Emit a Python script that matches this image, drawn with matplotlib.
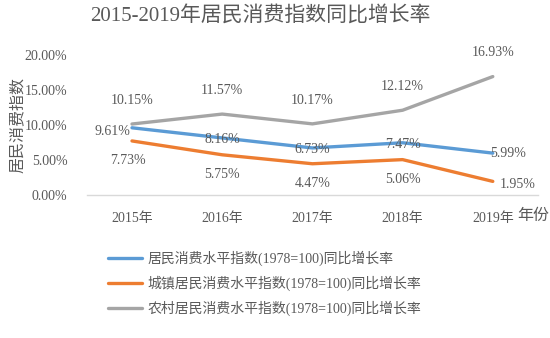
import numpy as np
import matplotlib
matplotlib.use("Agg")
import matplotlib.pyplot as plt
from matplotlib.ticker import FuncFormatter

plt.rcParams['font.family'] = ['Liberation Serif', 'Noto Sans CJK SC']

years = ["2015年", "2016年", "2017年", "2018年", "2019年"]
overall = [9.61, 8.16, 6.73, 7.47, 5.99]
urban = [7.73, 5.75, 4.47, 5.06, 1.95]
rural = [10.15, 11.57, 10.17, 12.12, 16.93]
names = ["居民消费水平指数(1978=100)同比增长率",
         "城镇居民消费水平指数(1978=100)同比增长率",
         "农村居民消费水平指数(1978=100)同比增长率"]
colors = ["#5B9BD5", "#ED7D31", "#A5A5A5"]
txt = "#595959"

fig = plt.figure(figsize=(5.5, 3.38), dpi=100)
ax = fig.add_axes([0.158, 0.423, 0.82, 0.414])
x = np.arange(len(years))

for vals, name, c in zip([overall, urban, rural], names, colors):
    ax.plot(x, vals, color=c, lw=2.4, label=name, solid_capstyle="round")

# data labels
for i, v in enumerate(rural):
    ax.annotate(f"{v:.2f}%", (x[i], v), xytext=(0, 17), textcoords="offset points",
                ha="center", va="center", fontsize=10, color=txt, annotation_clip=False)
for i, v in enumerate(urban):
    dx = 18 if i == len(urban) - 1 else 0
    dy = -2 if i == len(urban) - 1 else -14
    if i == 0:
        dx = -3
    ax.annotate(f"{v:.2f}%", (x[i], v), xytext=(dx, dy), textcoords="offset points",
                ha="center", va="center", fontsize=10, color=txt, annotation_clip=False)
for i, v in enumerate(overall):
    dx, dy = 0, -1
    if i == 0:
        dx, dy = -14, -3
    if i == len(overall) - 1:
        dx, dy = 11, 0
    ax.annotate(f"{v:.2f}%", (x[i], v), xytext=(dx, dy), textcoords="offset points",
                ha="center", va="center", fontsize=10, color=txt, annotation_clip=False)

ax.set_xlim(-0.5, len(years) - 0.5)
ax.set_ylim(0, 20)
ax.set_yticks([0, 5, 10, 15, 20])
ax.yaxis.set_major_formatter(FuncFormatter(lambda v, p: f"{v:.2f}%"))
ax.set_xticks(x)
ax.set_xticklabels(years)
ax.tick_params(axis="both", length=0, labelsize=10, labelcolor=txt)
ax.tick_params(axis="x", pad=12)
ax.tick_params(axis="y", pad=14)
for s in ["top", "right", "left"]:
    ax.spines[s].set_visible(False)
ax.spines["bottom"].set_color("#D9D9D9")
ax.spines["bottom"].set_linewidth(1)

ax.set_ylabel("居民消费指数", fontsize=11.5, color=txt, family=["Noto Sans CJK SC"])
ax.yaxis.set_label_coords(-0.135, 0.5)
fig.text(0.998, 0.362, "年份", fontsize=11.5, color=txt, ha="right", va="center",
         family=["Noto Sans CJK SC"])

fig.text(0.473, 0.955, "2015-2019年居民消费指数同比增长率", fontsize=15, color=txt,
         ha="center", va="center")

ax.legend(loc="upper left", bbox_to_anchor=(0.197, 0.258), bbox_transform=fig.transFigure,
          frameon=False, fontsize=10, labelcolor=txt, handlelength=2.4,
          handletextpad=0.4, labelspacing=0.68, borderpad=0, borderaxespad=0)

fig.savefig("out.png", dpi=100)
